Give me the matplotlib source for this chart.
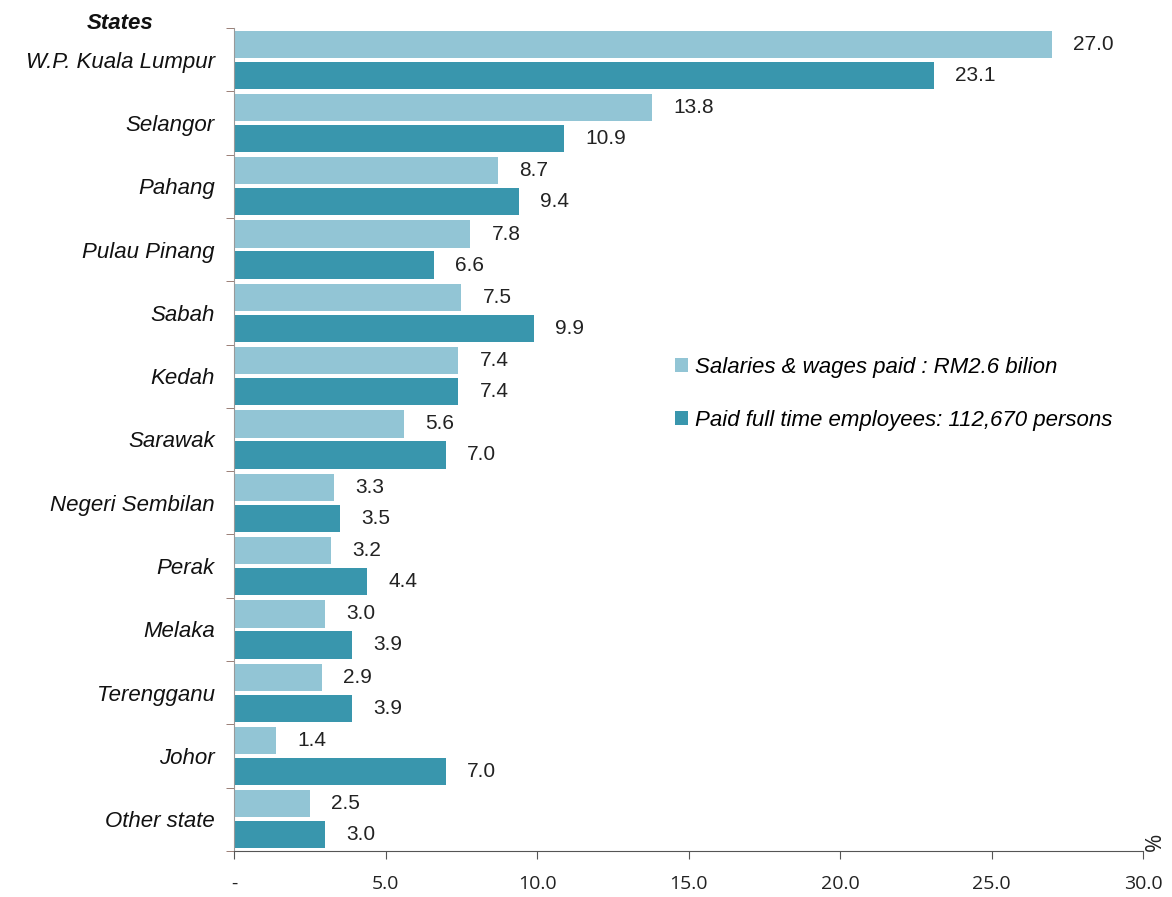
import matplotlib
matplotlib.use("Agg")
import matplotlib.pyplot as plt
from matplotlib.patches import Patch
import numpy as np

states = ["W.P. Kuala Lumpur", "Selangor", "Pahang", "Pulau Pinang", "Sabah", "Kedah",
          "Sarawak", "Negeri Sembilan", "Perak", "Melaka", "Terengganu", "Johor", "Other state"]
salaries = [27.0, 13.8, 8.7, 7.8, 7.5, 7.4, 5.6, 3.3, 3.2, 3.0, 2.9, 1.4, 2.5]
employees = [23.1, 10.9, 9.4, 6.6, 9.9, 7.4, 7.0, 3.5, 4.4, 3.9, 3.9, 7.0, 3.0]
xticks = [0, 5, 10, 15, 20, 25, 30]
xticklabels = ["-", "5.0", "10.0", "15.0", "20.0", "25.0", "30.0"]
legend_labels = ["Salaries & wages paid : RM2.6 bilion", "Paid full time employees: 112,670 persons"]

light = "#92C5D5"
dark = "#3996AD"

fig = plt.figure(figsize=(11.72, 8.97), dpi=100)
ax = fig.add_axes([0.1997, 0.0513, 0.7756, 0.9175])

y = np.arange(len(states))
h = 0.43
off = 0.245
ax.barh(y - off, salaries, height=h, color=light)
ax.barh(y + off, employees, height=h, color=dark)

vfont = dict(family="Liberation Sans", fontsize=15, color="#222222", va="center")
for i, (s, e) in enumerate(zip(salaries, employees)):
    ax.text(s + 0.7, i - off, f"{s:.1f}", **vfont)
    ax.text(e + 0.7, i + off, f"{e:.1f}", **vfont)

ax.set_xlim(0, 30)
ax.set_ylim(len(states) - 0.5, -0.5)
ax.set_xticks(xticks)
ax.set_xticklabels(xticklabels, family="Open Sans", fontsize=14, color="#222222")
ax.tick_params(axis="x", length=6, pad=11, color="#555555")

ax.set_yticks(y)
ax.set_yticklabels(states, family="Liberation Sans", style="italic", fontsize=16, color="#111111")
ax.tick_params(axis="y", length=0, pad=14)
ax.set_yticks(np.arange(-0.5, len(states), 1), minor=True)
ax.tick_params(axis="y", which="minor", length=6, color="#8a6a60")

for sp in ["top", "right"]:
    ax.spines[sp].set_visible(False)
ax.spines["left"].set_color("#999999")
ax.spines["bottom"].set_color("#555555")

ax.text(-0.125, 0.993, "States", transform=ax.transAxes, ha="center", va="bottom",
        family="Liberation Sans", style="italic", weight="bold", fontsize=16, color="#111111")
ax.text(30.4, len(states) - 0.5, "%", rotation=90, ha="center", va="bottom",
        family="Open Sans", fontsize=16, color="#222222")

handles = [Patch(facecolor=light), Patch(facecolor=dark)]
ax.legend(handles, legend_labels, loc="upper left", bbox_to_anchor=(0.463, 0.625),
          frameon=False, handlelength=0.6, handleheight=0.6, handletextpad=0.3,
          labelspacing=1.45, prop=dict(family="Liberation Sans", style="italic", size=16))

fig.savefig("out.png", dpi=100, facecolor="white")
